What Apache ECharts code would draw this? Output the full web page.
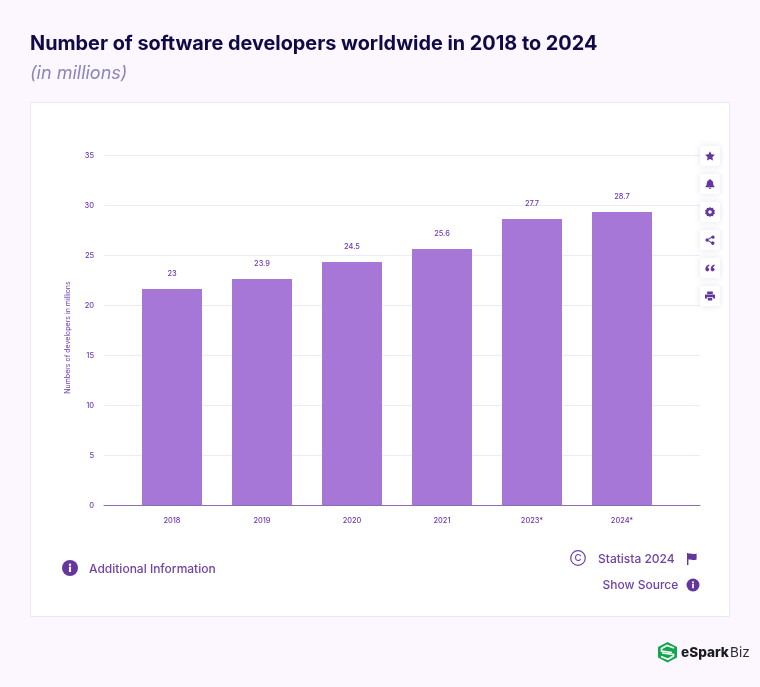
<!DOCTYPE html>
<html>
<head>
<meta charset="utf-8">
<title>Number of software developers worldwide</title>
<style>html,body{margin:0;padding:0;background:#fbf6ff}#c{width:760px;height:687px}</style>
<script src="https://cdn.jsdelivr.net/npm/echarts@6/dist/echarts.min.js"></script>
</head>
<body>
<div id="c"></div>
<script>
const categories = ['2018', '2019', '2020', '2021', '2023*', '2024*'];
const barValues = [21.65, 22.65, 24.35, 25.65, 28.65, 29.35];
const valueLabels = ['23', '23.9', '24.5', '25.6', '27.7', '28.7'];
const yTicks = { min: 0, max: 35, interval: 5 };

const titleText = 'Number of software developers worldwide in 2018 to 2024';
const subtitleText = '(in millions)';
const yAxisTitle = 'Numbers of developers in millions';

const FONT = 'Inter';
const PURPLE = '#6f42a8';
const LABEL = '#6f35b5';

const ICONS = {
  star: 'M5 0.2 L6.5 3.3 L9.9 3.8 L7.4 6.2 L8 9.6 L5 8 L2 9.6 L2.6 6.2 L0.1 3.8 L3.5 3.3 Z',
  bell: 'M5 0 C5.5 0 5.8 0.4 5.8 0.9 C7.4 1.3 8.2 2.6 8.2 4.2 C8.2 6 8.8 6.8 9.5 7.5 L9.5 8.2 L0.5 8.2 L0.5 7.5 C1.2 6.8 1.8 6 1.8 4.2 C1.8 2.6 2.6 1.3 4.2 0.9 C4.2 0.4 4.5 0 5 0 Z M3.7 8.8 L6.3 8.8 C6.3 9.5 5.7 10 5 10 C4.3 10 3.7 9.5 3.7 8.8 Z',
  gear: 'M5 0 L6.2 1.1 L8 0.8 L8.5 2.5 L10 3.5 L9.3 5 L10 6.5 L8.5 7.5 L8 9.2 L6.2 8.9 L5 10 L3.8 8.9 L2 9.2 L1.5 7.5 L0 6.5 L0.7 5 L0 3.5 L1.5 2.5 L2 0.8 L3.8 1.1 Z M5 3.2 A1.8 1.8 0 1 0 5 6.8 A1.8 1.8 0 1 0 5 3.2 Z',
  share: 'M8 0.4 A1.7 1.7 0 1 1 6.5 3 L3.7 4.5 A1.7 1.7 0 0 1 3.7 5.5 L6.5 7 A1.7 1.7 0 1 1 6.1 7.9 L3.2 6.3 A1.7 1.7 0 1 1 3.2 3.7 L6.1 2.1 A1.7 1.7 0 0 1 8 0.4 Z',
  quote: 'M4.3 1.5 C2.2 2 0.4 3.6 0.4 6 C0.4 7.4 1.2 8.3 2.3 8.3 C3.4 8.3 4.2 7.5 4.2 6.5 C4.2 5.5 3.5 4.8 2.6 4.8 C2.8 4 3.5 3.2 4.3 2.9 Z M9.6 1.5 C7.5 2 5.7 3.6 5.7 6 C5.7 7.4 6.5 8.3 7.6 8.3 C8.7 8.3 9.5 7.5 9.5 6.5 C9.5 5.5 8.8 4.8 7.9 4.8 C8.1 4 8.8 3.2 9.6 2.9 Z',
  print: 'M2.2 0.5 L7.8 0.5 L7.8 3 L2.2 3 Z M1 3.6 L9 3.6 C9.6 3.6 10 4 10 4.6 L10 7.4 L8 7.4 L8 6.2 L2 6.2 L2 7.4 L0 7.4 L0 4.6 C0 4 0.4 3.6 1 3.6 Z M2.8 6.9 L7.2 6.9 L7.2 9.6 L2.8 9.6 Z',
  flag: 'M0 0 L1.4 0 L1.4 0.8 C3.5 -0.2 5.5 2 9.6 0.6 L9.6 6.4 C5.5 7.8 3.5 5.8 1.4 6.6 L1.4 12 L0 12 Z'
};
Object.keys(ICONS).forEach(function (k) {
  echarts.graphic.registerShape('icon_' + k, echarts.graphic.extendPath(ICONS[k], {}));
});

function icon(name, x, y, color) {
  return {
    type: 'icon_' + name, silent: true, z: 12, x: x, y: y,
    style: { fill: color }
  };
}
function txt(text, x, y, size, color, weight, align) {
  return {
    type: 'text', silent: true, z: 12, x: x, y: y,
    style: { text: text, fill: color, font: (weight || 400) + ' ' + size + 'px ' + FONT, textAlign: align || 'left', textVerticalAlign: 'middle' }
  };
}
function infoDot(cx, cy, r) {
  return [
    { type: 'circle', silent: true, z: 12, shape: { cx: cx, cy: cy, r: r }, style: { fill: '#66369f' } },
    { type: 'rect', silent: true, z: 13, shape: { x: cx - r * 0.13, y: cy - r * 0.18, width: r * 0.26, height: r * 0.68 }, style: { fill: '#fff' } },
    { type: 'circle', silent: true, z: 13, shape: { cx: cx, cy: cy - r * 0.42, r: r * 0.15 }, style: { fill: '#fff' } }
  ];
}

const sideButtons = [['star', 156], ['bell', 184], ['gear', 212], ['share', 240], ['quote', 268], ['print', 296]];
const graphics = [
  { type: 'rect', silent: true, z: -10, shape: { x: 30.5, y: 102.5, width: 699, height: 514 }, style: { fill: '#ffffff', stroke: '#efe4ff', lineWidth: 1 } }
];
sideButtons.forEach(function (b) {
  graphics.push({
    type: 'rect', silent: true, z: 11,
    shape: { x: 700, y: b[1] - 10, width: 20, height: 20, r: 2 },
    style: { fill: '#fff', shadowBlur: 6, shadowColor: 'rgba(90,60,150,0.14)' }
  });
  graphics.push(icon(b[0], 705, b[1] - 5, '#66369f'));
});
graphics.push.apply(graphics, infoDot(70, 568, 8));
graphics.push(txt('Additional Information', 89, 569, 12, PURPLE, 500));
graphics.push({ type: 'circle', silent: true, z: 12, shape: { cx: 578, cy: 558, r: 7.3 }, style: { fill: 'none', stroke: PURPLE, lineWidth: 1.2 } });
graphics.push(txt('C', 578, 558.3, 9.5, PURPLE, 500, 'center'));
graphics.push(txt('Statista 2024', 598, 559.5, 12, PURPLE, 500));
graphics.push(icon('flag', 687, 553, '#66369f'));
graphics.push(txt('Show Source', 602.5, 585.5, 12, PURPLE, 500));
graphics.push.apply(graphics, infoDot(693, 585, 6.5));
// logo
graphics.push({ type: 'polygon', silent: true, z: 12, shape: { points: [[667.5, 642], [677, 647], [677, 657.5], [667.5, 662.5], [658, 657.5], [658, 647]] }, style: { fill: '#10a84a' } });
graphics.push({ type: 'polyline', silent: true, z: 13, shape: { points: [[674, 648], [667, 645.5], [661.5, 648.5], [661.5, 651], [672, 652.5]] }, style: { stroke: '#fbf6ff', lineWidth: 1.7, fill: 'none' } });
graphics.push({ type: 'polyline', silent: true, z: 13, shape: { points: [[662, 653], [673.5, 654.5], [673.5, 656], [668, 659.2], [661, 656.5]] }, style: { stroke: '#fbf6ff', lineWidth: 1.7, fill: 'none' } });
graphics.push(txt('eSpark', 681, 652.5, 13.6, '#1b1b22', 800));
graphics.push(txt('Biz', 730, 652.5, 13.6, '#2a2a33', 400));

const chart = echarts.init(document.getElementById('c'), null, { renderer: 'canvas', width: 760, height: 687 });
chart.setOption({
  animation: false,
  backgroundColor: '#fbf6ff',
  title: {
    left: 30, top: 34, padding: 0, text: titleText, subtext: subtitleText, itemGap: 11,
    textStyle: { fontFamily: FONT, fontWeight: 700, fontSize: 19.85, color: '#0f0a45' },
    subtextStyle: { fontFamily: FONT, fontStyle: 'italic', fontWeight: 400, fontSize: 18, color: '#8b86b3' }
  },
  grid: [
    { left: 104, width: 596, top: 155.5, height: 350 },
    { left: 127, width: 540, top: 155.5, height: 350 }
  ],
  xAxis: [
    { gridIndex: 0, type: 'category', data: categories, axisTick: { show: false }, axisLabel: { show: false },
      axisLine: { lineStyle: { color: '#8a6db5', width: 1 } }, z: 5 },
    { gridIndex: 1, type: 'category', data: categories, axisTick: { show: false }, axisLine: { show: false },
      axisLabel: { fontFamily: FONT, fontSize: 7.4, fontWeight: 500, color: LABEL, margin: 12 } }
  ],
  yAxis: [
    { gridIndex: 0, type: 'value', min: yTicks.min, max: yTicks.max, interval: yTicks.interval,
      axisLine: { show: false }, axisTick: { show: false },
      axisLabel: { fontFamily: FONT, fontSize: 7.4, fontWeight: 500, color: LABEL, margin: 10, padding: [3, 0, 0, 0] },
      splitLine: { lineStyle: { color: '#efe9fa', width: 1 } },
      name: yAxisTitle, nameLocation: 'middle', nameRotate: 90, nameGap: 33,
      nameTextStyle: { fontFamily: FONT, fontSize: 7, color: '#7040ae', padding: [0, 14, 0, 0] } },
    { gridIndex: 1, type: 'value', min: yTicks.min, max: yTicks.max, interval: yTicks.interval, show: false }
  ],
  series: [{
    type: 'bar', xAxisIndex: 1, yAxisIndex: 1, data: barValues, barWidth: 60,
    itemStyle: { color: '#a777d8' },
    label: {
      show: true, position: 'top', distance: 12, fontFamily: FONT, fontSize: 7.4, fontWeight: 500, color: LABEL,
      formatter: function (p) { return valueLabels[p.dataIndex]; }
    }
  }],
  graphic: graphics
});
</script>
</body>
</html>
